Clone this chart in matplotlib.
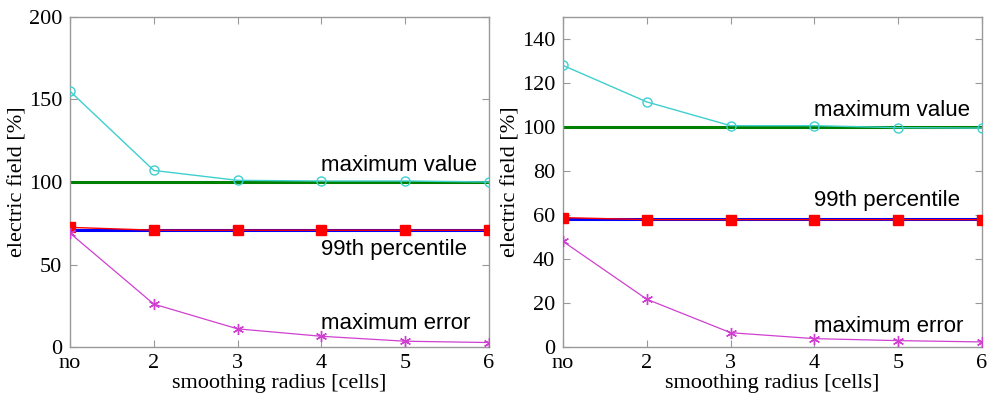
import matplotlib
matplotlib.use("Agg")
import matplotlib.pyplot as plt
import numpy as np

x_labels = ["no", "2", "3", "4", "5", "6"]
x_pos = [1, 2, 3, 4, 5, 6]

# left panel
left_max_value = [155, 107, 101, 100.6, 100.6, 100]
left_ref_max = 100
left_p99 = [72.5, 70.8, 70.8, 70.8, 70.8, 70.8]
left_ref_p99 = 71
left_max_error = [69, 26, 11, 6.5, 3.5, 2.7]

# right panel
right_max_value = [128, 111.4, 100.6, 100.6, 99.7, 99.5]
right_ref_max = 100
right_p99 = [58.8, 57.9, 57.9, 57.9, 57.9, 57.9]
right_ref_p99 = 58
right_max_error = [48, 21.7, 6.5, 3.8, 2.9, 2.3]

serif = "Liberation Serif"
sans = "Liberation Sans"

fig = plt.figure(figsize=(9.88, 4.01), dpi=100)
W, H = 988, 401
axL = fig.add_axes([70 / W, 1 - 347 / H, 419 / W, 330 / H])
axR = fig.add_axes([563 / W, 1 - 347 / H, 419 / W, 330 / H])

cyan = "#3fcfcf"
magenta = "#d040d0"
asterisk = (6, 2, 0)


def draw(ax, mv, refmax, p99, refp99, me, ylim, yticks, text_y):
    ax.plot(x_pos, [refmax] * len(x_pos), color="#008000", lw=2.2, zorder=2)
    ax.plot(x_pos, mv, color=cyan, lw=1, marker="o", ms=6.5, mfc="none",
            mec=cyan, mew=1, zorder=3)
    ax.plot(x_pos, [refp99] * len(x_pos), color="#0000ff", lw=2.2, zorder=2)
    ax.plot(x_pos, p99, color="#ff0000", lw=1, marker="s", ms=6.5,
            mec="#ff0000", mfc="#ff0000", zorder=3)
    ax.plot(x_pos, me, color=magenta, lw=0.9, marker=asterisk, ms=8, mew=1,
            zorder=3)
    ax.set_xlim(1, 6)
    ax.set_ylim(*ylim)
    ax.set_xticks(x_pos)
    ax.set_xticklabels(x_labels, fontfamily=serif, fontsize=16)
    ax.set_yticks(yticks)
    ax.set_yticklabels([str(t) for t in yticks], fontfamily=serif, fontsize=16)
    ax.tick_params(direction="in", length=5, width=0.8, color="#999999",
                   top=True, right=True)
    ax.tick_params(axis="x", pad=5)
    ax.tick_params(axis="y", pad=5.5)
    for s in ax.spines.values():
        s.set_color("#999999")
        s.set_linewidth(1)
    ax.set_xlabel("smoothing radius [cells]", fontfamily=serif, fontsize=16,
                  labelpad=1)
    ax.set_ylabel("electric field [%]", fontfamily=serif, fontsize=16,
                  labelpad=1)
    labels = ["maximum value", "99th percentile", "maximum error"]
    for lab, ty in zip(labels, text_y):
        ax.text(4.0, ty, lab, fontfamily=sans, fontsize=16, ha="left",
                va="center")


draw(axL, left_max_value, left_ref_max, left_p99, left_ref_p99,
     left_max_error, (0, 200), [0, 50, 100, 150, 200], [110, 59, 14.5])
draw(axR, right_max_value, right_ref_max, right_p99, right_ref_p99,
     right_max_error, (0, 150), [0, 20, 40, 60, 80, 100, 120, 140],
     [107.7, 66.8, 9.5])

fig.savefig("out.png", dpi=100)
